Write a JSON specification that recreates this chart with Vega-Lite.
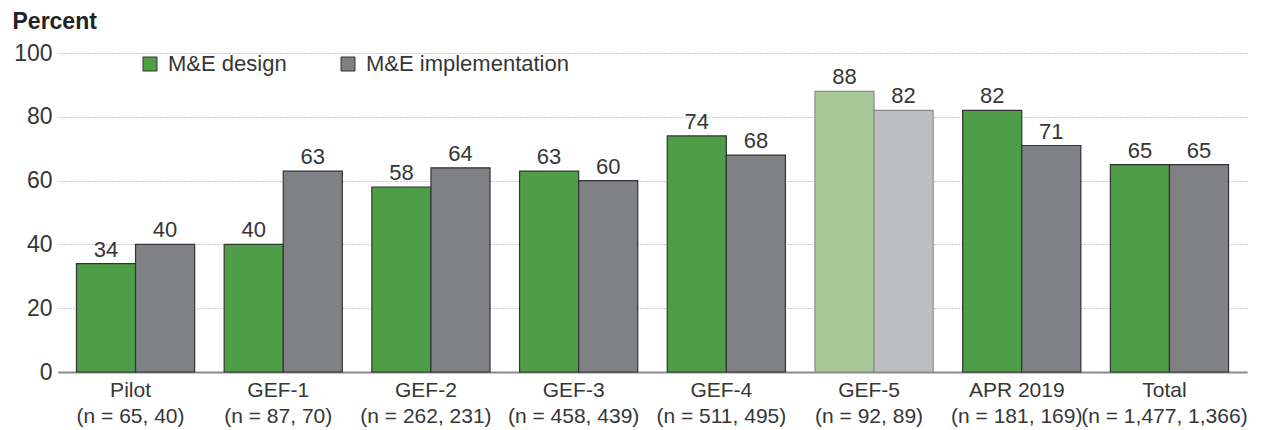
{
  "$schema": "https://vega.github.io/schema/vega-lite/v6.json",
  "width": 1189,
  "height": 319,
  "autosize": {"type": "none"},
  "padding": {"left": 58, "top": 53, "right": 22, "bottom": 58},
  "background": "white",
  "config": {
    "font": "Liberation Sans",
    "view": {"stroke": null},
    "axis": {"labelColor": "#363636", "labelFont": "Liberation Sans"},
    "legend": {
      "symbolType": "square",
      "symbolSize": 196,
      "symbolStrokeColor": "#333333",
      "symbolStrokeWidth": 1,
      "labelFontSize": 22,
      "labelColor": "#363636",
      "labelOffset": 7,
      "labelLimit": 0,
      "columnPadding": 50
    }
  },
  "data": {
    "values": [
      {"period": "Pilot|(n = 65, 40)", "series": "M&E design", "shade": "M&E design", "value": 34},
      {"period": "Pilot|(n = 65, 40)", "series": "M&E implementation", "shade": "M&E implementation", "value": 40},
      {"period": "GEF-1|(n = 87, 70)", "series": "M&E design", "shade": "M&E design", "value": 40},
      {"period": "GEF-1|(n = 87, 70)", "series": "M&E implementation", "shade": "M&E implementation", "value": 63},
      {"period": "GEF-2|(n = 262, 231)", "series": "M&E design", "shade": "M&E design", "value": 58},
      {"period": "GEF-2|(n = 262, 231)", "series": "M&E implementation", "shade": "M&E implementation", "value": 64},
      {"period": "GEF-3|(n = 458, 439)", "series": "M&E design", "shade": "M&E design", "value": 63},
      {"period": "GEF-3|(n = 458, 439)", "series": "M&E implementation", "shade": "M&E implementation", "value": 60},
      {"period": "GEF-4|(n = 511, 495)", "series": "M&E design", "shade": "M&E design", "value": 74},
      {"period": "GEF-4|(n = 511, 495)", "series": "M&E implementation", "shade": "M&E implementation", "value": 68},
      {"period": "GEF-5|(n = 92, 89)", "series": "M&E design", "shade": "M&E design (GEF-5)", "value": 88},
      {"period": "GEF-5|(n = 92, 89)", "series": "M&E implementation", "shade": "M&E implementation (GEF-5)", "value": 82},
      {"period": "APR 2019|(n = 181, 169)", "series": "M&E design", "shade": "M&E design", "value": 82},
      {"period": "APR 2019|(n = 181, 169)", "series": "M&E implementation", "shade": "M&E implementation", "value": 71},
      {"period": "Total|(n = 1,477, 1,366)", "series": "M&E design", "shade": "M&E design", "value": 65},
      {"period": "Total|(n = 1,477, 1,366)", "series": "M&E implementation", "shade": "M&E implementation", "value": 65}
    ]
  },
  "encoding": {
    "x": {
      "field": "period",
      "type": "nominal",
      "sort": null,
      "scale": {"paddingInner": 0.2, "paddingOuter": 0.125},
      "axis": {
        "title": null,
        "labelAngle": 0,
        "labelExpr": "split(datum.value, '|')",
        "labelFontSize": 21,
        "labelLineHeight": 26,
        "labelPadding": 7,
        "labelBaseline": "top",
        "labelOffset": -5,
        "labelOverlap": false,
        "ticks": false,
        "domainColor": "#8a8a8a",
        "domainWidth": 2,
        "grid": false
      }
    },
    "xOffset": {"field": "series", "type": "nominal", "sort": ["M&E design", "M&E implementation"]},
    "y": {
      "field": "value",
      "type": "quantitative",
      "scale": {"domain": [0, 100], "nice": false},
      "axis": {
        "values": [0, 20, 40, 60, 80, 100],
        "title": "Percent",
        "titleAngle": 0,
        "titleAlign": "left",
        "titleBaseline": "alphabetic",
        "titleX": -46,
        "titleY": -25,
        "titleFontSize": 23,
        "titleFontWeight": "bold",
        "titleColor": "#222222",
        "labelFontSize": 23,
        "labelPadding": 6,
        "ticks": false,
        "domain": false,
        "grid": true,
        "gridColor": "#999999",
        "gridDash": [1, 2],
        "gridWidth": 1
      }
    }
  },
  "layer": [
    {
      "mark": {"type": "bar", "strokeWidth": 1.2},
      "encoding": {
        "color": {
          "field": "shade",
          "type": "nominal",
          "scale": {
            "domain": ["M&E design", "M&E implementation", "M&E design (GEF-5)", "M&E implementation (GEF-5)"],
            "range": ["#4d9e46", "#808184", "#a6c897", "#bcbdc0"]
          },
          "legend": {
            "title": null,
            "values": ["M&E design", "M&E implementation"],
            "orient": "none",
            "legendX": 81,
            "legendY": 0,
            "direction": "horizontal"
          }
        },
        "stroke": {
          "condition": {"test": "indexof(datum.period, 'GEF-5') == 0", "value": "#8c8c8c"},
          "value": "#333333"
        }
      }
    },
    {
      "mark": {"type": "text", "fontSize": 22, "color": "#363636", "baseline": "alphabetic", "dy": -7},
      "encoding": {"text": {"field": "value", "type": "quantitative"}}
    }
  ]
}
